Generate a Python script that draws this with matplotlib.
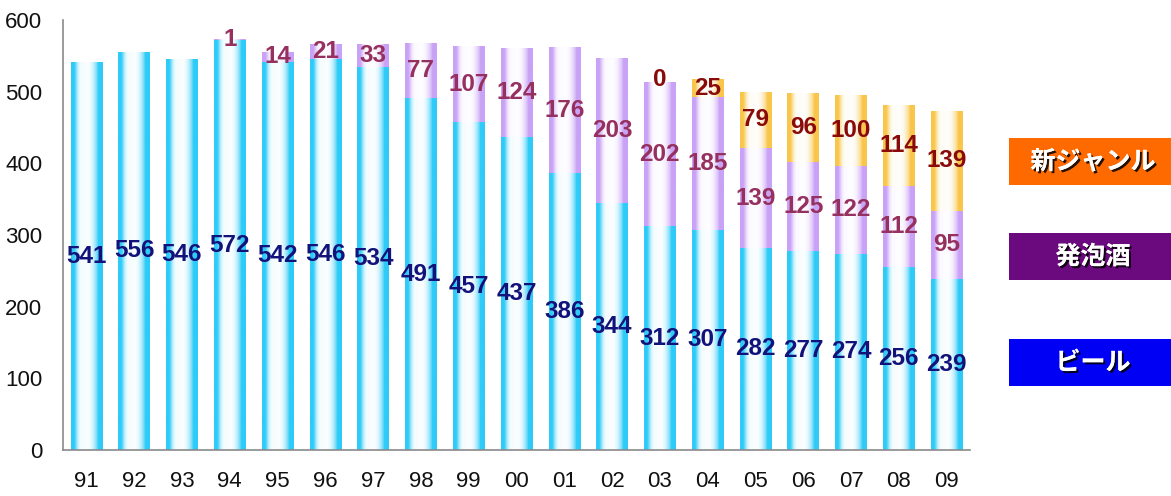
import numpy as np
import matplotlib
matplotlib.use("Agg")
import matplotlib.pyplot as plt
from matplotlib.patches import Rectangle
from matplotlib.colors import to_rgb
import matplotlib.patheffects as pe

# ---- data ----
years = ['91', '92', '93', '94', '95', '96', '97', '98', '99', '00',
         '01', '02', '03', '04', '05', '06', '07', '08', '09']
beer = [541, 556, 546, 572, 542, 546, 534, 491, 457, 437,
        386, 344, 312, 307, 282, 277, 274, 256, 239]
happoshu = [None, None, None, 1, 14, 21, 33, 77, 107, 124,
            176, 203, 202, 185, 139, 125, 122, 112, 95]
new_genre = [None, None, None, None, None, None, None, None, None, None,
             None, None, 0, 25, 79, 96, 100, 114, 139]
legend_labels = ['新ジャンル', '発泡酒', 'ビール']
y_ticks = [0, 100, 200, 300, 400, 500, 600]

# ---- style ----
beer_col = '#2ECBF8'
happo_col = '#C9A2F7'
new_col = '#F9C64A'
beer_txt = '#12127A'
happo_txt = '#96305E'
new_txt = '#8A0A0A'
legend_cols = ['#FF6A00', '#6A0A7E', '#0000F5']

plt.rcParams['font.family'] = ['Liberation Sans', 'DejaVu Sans']

fig = plt.figure(figsize=(11.71, 4.96), dpi=100)
ax = fig.add_axes([63/1171, 46/496, (970-63)/1171, 430/496])

x = np.arange(len(years))
h_happo = [v if v is not None else 0 for v in happoshu]
h_new = [v if v is not None else 0 for v in new_genre]
bottom_new = [b + h for b, h in zip(beer, h_happo)]

width = 0.66
b1 = ax.bar(x, beer, width=width, color=beer_col, linewidth=0)
b2 = ax.bar(x, h_happo, width=width, bottom=beer, color=happo_col, linewidth=0)
b3 = ax.bar(x, h_new, width=width, bottom=bottom_new, color=new_col, linewidth=0)

# horizontal "cylinder" gradient profile (1 = full colour, 0 = white)
tp = [0.0, 0.1, 0.14, 0.22, 0.3, 0.55, 0.66, 0.76, 0.82, 0.86, 1.0]
ap = [1.0, 1.0, 0.75, 0.25, 0.05, 0.02, 0.15, 0.45, 0.7, 1.0, 1.0]
t = np.linspace(0, 1, 96)
a = np.interp(t, tp, ap)


def gradient_bars(container, col):
    c = np.array(to_rgb(col))
    img = (1 - a)[:, None] * np.ones(3)[None, :] + a[:, None] * c[None, :]
    img = img[None, :, :]
    for p in container.patches:
        if p.get_height() <= 0:
            continue
        x0, y0 = p.get_x(), p.get_y()
        im = ax.imshow(img, extent=[x0, x0 + p.get_width(), y0, y0 + p.get_height()],
                       aspect='auto', interpolation='bilinear', zorder=2)
        im.set_clip_path(p)


gradient_bars(b1, beer_col)
gradient_bars(b2, happo_col)
gradient_bars(b3, new_col)

fs = 17.5
for i in range(len(years)):
    ax.text(x[i], beer[i] / 2, str(beer[i]), ha='center', va='center',
            fontsize=fs, fontweight='bold', color=beer_txt, zorder=5)
    if happoshu[i] is not None:
        ax.text(x[i], beer[i] + happoshu[i] / 2, str(happoshu[i]), ha='center',
                va='center', fontsize=fs, fontweight='bold', color=happo_txt, zorder=5)
    if new_genre[i] is not None:
        ax.text(x[i], bottom_new[i] + new_genre[i] / 2 + (3 if new_genre[i] == 0 else 0),
                str(new_genre[i]), ha='center', va='center', fontsize=fs,
                fontweight='bold', color=new_txt, zorder=5)

ax.set_xlim(-0.49, len(years) - 0.51)
ax.set_ylim(0, 600)
ax.set_yticks(y_ticks)
ax.set_xticks(x)
ax.set_xticklabels(years)
ax.tick_params(axis='both', length=0, labelsize=16, colors='#111111')
ax.tick_params(axis='x', pad=15)
ax.tick_params(axis='y', pad=15)
for s in ['top', 'right']:
    ax.spines[s].set_visible(False)
ax.spines['left'].set_color('#8a8a8a')
ax.spines['bottom'].set_color('#8a8a8a')
ax.spines['left'].set_linewidth(1.2)
ax.spines['bottom'].set_linewidth(1.2)
ax.spines['bottom'].set_zorder(6)

# legend boxes
box_tops = [138, 233, 339]
for lab, col, top in zip(legend_labels, legend_cols, box_tops):
    fig.patches.append(Rectangle((1009/1171, 1 - (top + 47)/496), (1171-1009)/1171, 47/496,
                                 transform=fig.transFigure, facecolor=col,
                                 edgecolor='none'))
    fig.text(1093/1171, 1 - (top + 24)/496, lab, ha='center', va='center',
             fontsize=18, fontweight='bold', color='white',
             family=['Noto Sans CJK JP', 'DejaVu Sans'],
             path_effects=[pe.withSimplePatchShadow(offset=(1.5, -1.5),
                                                    shadow_rgbFace='black', alpha=0.85),
                           pe.Normal()])

fig.savefig('out.png', dpi=100, facecolor='white')
